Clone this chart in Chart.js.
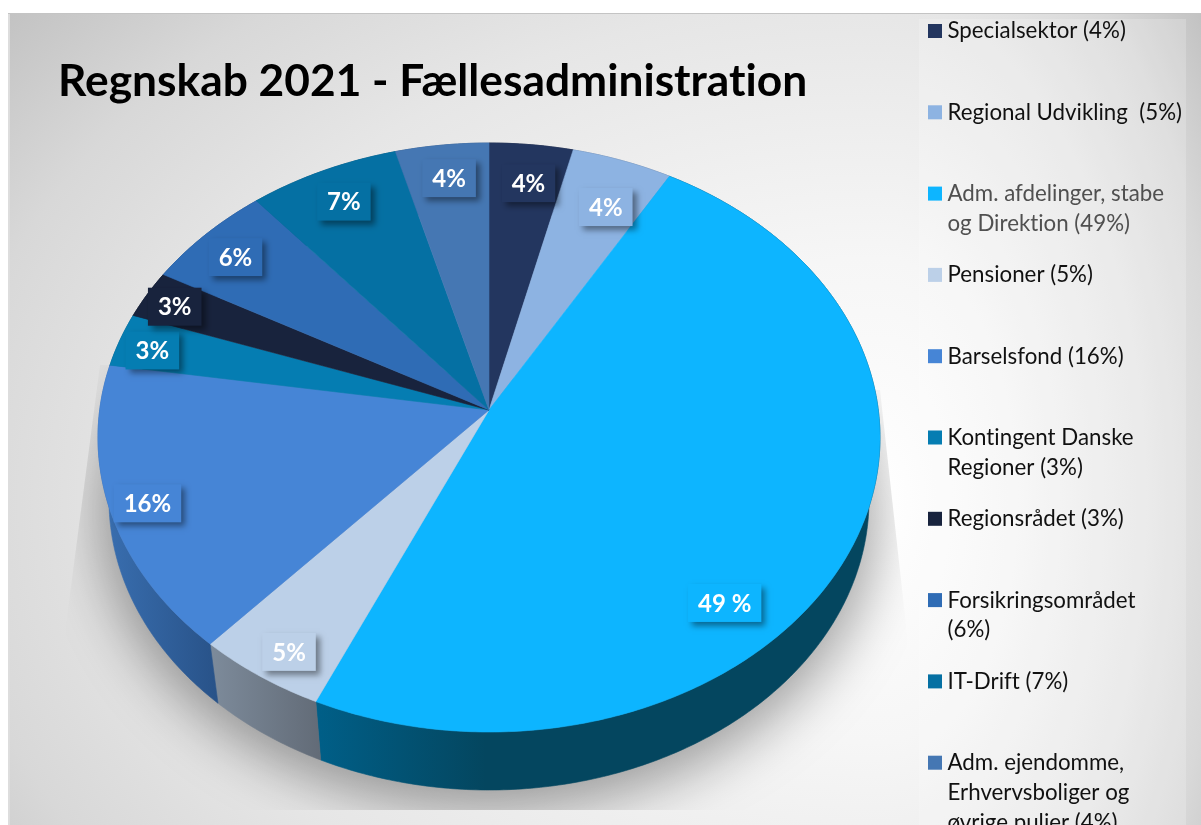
<!DOCTYPE html>
<html lang="da"><head><meta charset="utf-8">
<style>html,body{margin:0;padding:0;background:#fff;overflow:hidden}canvas{display:block}</style>
<script src="https://cdn.jsdelivr.net/npm/chart.js@4"></script>
</head><body><canvas id="c" width="1201" height="825"></canvas>
<script>
const categories = ["Specialsektor","Regional Udvikling","Adm. afdelinger, stabe og Direktion","Pensioner","Barselsfond","Kontingent Danske Regioner","Regionsrådet","Forsikringsområdet","IT-Drift","Adm. ejendomme, Erhvervsboliger og øvrige puljer"];
const shares = [3.79,4.56,48.32,4.94,15.88,2.93,2.64,5.88,6.84,4.22];
const sliceLabels = ["4%","4%","49 %","5%","16%","3%","3%","6%","7%","4%"];
const legendLines = [["Specialsektor (4%)"],["Regional Udvikling  (5%)"],["Adm. afdelinger, stabe","og Direktion (49%)"],["Pensioner (5%)"],["Barselsfond (16%)"],["Kontingent Danske","Regioner (3%)"],["Regionsrådet (3%)"],["Forsikringsområdet","(6%)"],["IT-Drift (7%)"],["Adm. ejendomme,","Erhvervsboliger og","øvrige puljer (4%)"]];
const sliceColors = ["#23365F","#8DB3E2","#0DB5FF","#BCD0E8","#4685D6","#057DB2","#18233D","#2F6CB5","#0570A3","#4577B3"];
const wallLeft = ["#16223c","#5a7090","#005f88","#7d8b9b","#3a70b2","#04587e","#10182a","#204c80","#044f73","#2f537e"];
const wallRight = ["#16223c","#5a7090","#04465f","#626b77","#285288","#04587e","#10182a","#204c80","#044f73","#2f537e"];
const labelRadius = [.853,.817,.84,.9,.905,.908,.915,.884,.87,.873];
const labelAlong = [.54,.578,.616,.45,.5,.45,.48,.48,.506,.52];
const legendColorsText = ["#111","#111","#505050","#111","#111","#111","#111","#111","#111","#111"];

const TOP = {x:489,y:437.5,rx:391,ry:294.5};
const BASE = {x:489,y:500,rx:380,ry:290};
const V0 = -0.0934, K = Math.sqrt(1-V0*V0);
function disc(cx,cy){const d=1+cy*V0;return {u:cx*K/d,v:(cy+V0)/d};}
function onTop(a,r=1){const p=disc(r*Math.cos(a),r*Math.sin(a));return [TOP.x+TOP.rx*p.u,TOP.y+TOP.ry*p.v];}
function onBase(a){const p=disc(Math.cos(a),Math.sin(a));return [BASE.x+BASE.rx*p.u,BASE.y+BASE.ry*p.v];}

function paintBackground(ctx,W,H){
  ctx.fillStyle="#fff";ctx.fillRect(0,0,W,H);
  ctx.save();ctx.beginPath();ctx.rect(10,14,W-10,H-14);ctx.clip();
  const cx=880,cy=500;
  [[0,cx,900],[cx,W-cx,330]].forEach(([x0,w,rx])=>{
    ctx.save();ctx.beginPath();ctx.rect(x0,0,w,H);ctx.clip();
    ctx.translate(cx,cy);ctx.scale(rx/620,1);
    const g=ctx.createRadialGradient(0,0,0,0,0,620*1.3);
    g.addColorStop(0,"#ffffff");g.addColorStop(.3,"#f6f6f6");g.addColorStop(.62,"#e6e6e6");g.addColorStop(.8,"#d8d8d8");g.addColorStop(1,"#bdbdbd");
    ctx.fillStyle=g;ctx.fillRect(-3000,-3000,6000,6000);
    ctx.restore();
  });
  ctx.restore();
  ctx.fillStyle="#c4c4c4";ctx.fillRect(8,13,W-8,1);
  ctx.fillStyle="#dddddd";ctx.fillRect(8,14,2,H-14);
  ctx.fillStyle="rgba(255,255,255,.2)";ctx.fillRect(919,19,267,H-19);
}
function paintShadow(ctx){
  ctx.save();
  ctx.beginPath();ctx.moveTo(100,365);ctx.lineTo(66,625);ctx.lineTo(60,810);ctx.lineTo(918,810);ctx.lineTo(906,625);ctx.lineTo(880,390);ctx.closePath();ctx.clip();
  ctx.shadowColor="rgba(0,0,0,.36)";ctx.shadowBlur=55;ctx.shadowOffsetX=0;ctx.shadowOffsetY=2000;
  ctx.fillStyle="#000";ctx.beginPath();ctx.ellipse(BASE.x,BASE.y+12-2000,BASE.rx+8,BASE.ry+8,0,0,Math.PI*2);ctx.fill();
  ctx.restore();
}
const projectedPie = {
  id:"projectedPie",
  beforeDraw(chart){chart.ctx.textRendering="optimizeSpeed";paintBackground(chart.ctx,chart.width,chart.height);paintShadow(chart.ctx);},
  beforeDatasetDraw(chart,args){
    const ctx=chart.ctx, arcs=args.meta.data;
    arcs.forEach((arc,i)=>{
      const a0=arc.startAngle,a1=arc.endAngle,n=Math.max(2,Math.ceil((a1-a0)*90));
      const t=[],b=[];
      for(let k=0;k<=n;k++){const a=a0+(a1-a0)*k/n;t.push(onTop(a));b.push(onBase(a));}
      const xs=t.concat(b).map(p=>p[0]);
      const g=ctx.createLinearGradient(Math.min(...xs),0,Math.min(Math.max(...xs),Math.min(...xs)+170),0);
      g.addColorStop(0,wallLeft[i]);g.addColorStop(1,wallRight[i]);
      ctx.fillStyle=g;ctx.strokeStyle=g;ctx.lineWidth=.6;
      ctx.beginPath();t.forEach((p,k)=>k?ctx.lineTo(p[0],p[1]):ctx.moveTo(p[0],p[1]));
      b.reverse().forEach(p=>ctx.lineTo(p[0],p[1]));ctx.closePath();ctx.fill();ctx.stroke();
    });
    const apex=onTop(0,0);
    arcs.forEach((arc,i)=>{
      const a0=arc.startAngle,a1=arc.endAngle,n=Math.max(2,Math.ceil((a1-a0)*90));
      ctx.fillStyle=ctx.strokeStyle=sliceColors[i];ctx.lineWidth=.6;
      ctx.beginPath();ctx.moveTo(apex[0],apex[1]);
      for(let k=0;k<=n;k++){const p=onTop(a0+(a1-a0)*k/n);ctx.lineTo(p[0],p[1]);}
      ctx.closePath();ctx.fill();ctx.stroke();
    });
    return false;
  },
  afterDatasetsDraw(chart){
    const ctx=chart.ctx;
    chart.getDatasetMeta(0).data.forEach((arc,i)=>{
      const a=arc.startAngle+(arc.endAngle-arc.startAngle)*labelAlong[i];
      const [x,yy]=onTop(a,labelRadius[i]);
      const y=yy+2;
      ctx.font="bold 24px Lato";ctx.textRendering="optimizeSpeed";
      const w=ctx.measureText(sliceLabels[i]).width+20,h=38;
      ctx.save();
      ctx.shadowColor="rgba(0,0,0,.42)";ctx.shadowBlur=6;ctx.shadowOffsetX=4;ctx.shadowOffsetY=4;
      ctx.fillStyle=sliceColors[i];ctx.fillRect(x-w/2,y-h/2,w,h);
      ctx.restore();
      ctx.fillStyle="#fff";ctx.textAlign="center";ctx.textBaseline="middle";
      ctx.fillText(sliceLabels[i],x,y+1);
    });
  },
  afterDraw(chart){
    const ctx=chart.ctx;
    ctx.textAlign="left";ctx.textBaseline="alphabetic";ctx.font="22.3px Lato";ctx.textRendering="optimizeSpeed";
    legendLines.forEach((lines,i)=>{
      const top=24+81.3*i;
      ctx.fillStyle=sliceColors[i];ctx.fillRect(928,top,14,14);
      ctx.fillStyle=legendColorsText[i];
      lines.forEach((s,k)=>ctx.fillText(s,947.5,top+14.4+k*29.7));
    });
  }
};
new Chart(document.getElementById("c"),{
  type:"pie",
  data:{labels:categories,datasets:[{data:shares,backgroundColor:sliceColors,borderWidth:0}]},
  options:{responsive:false,animation:false,rotation:0,
    layout:{padding:{left:58,top:55}},
    plugins:{legend:{display:false},tooltip:{enabled:false},
      title:{display:true,text:"Regnskab 2021 - Fællesadministration",align:"start",color:"#000",padding:0,
        font:{family:"Lato",weight:"bold",size:44.3,lineHeight:1.2}}}
  },
  plugins:[projectedPie]
});
</script></body></html>
